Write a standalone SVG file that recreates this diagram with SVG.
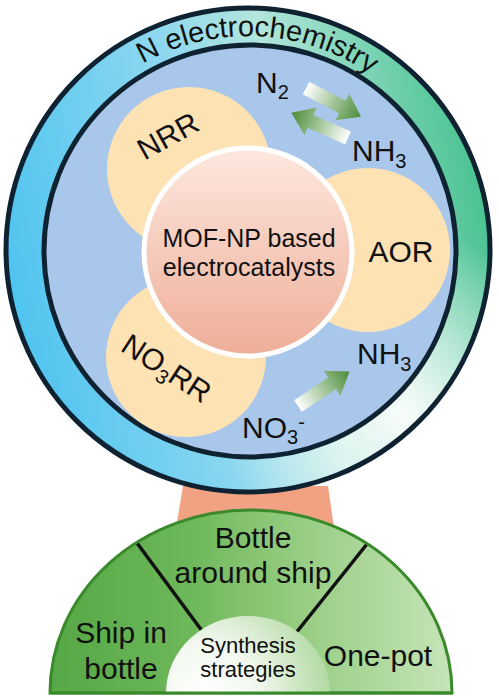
<svg xmlns="http://www.w3.org/2000/svg" width="499" height="700" viewBox="0 0 499 700">
<defs>
<style>
.t{font-family:"Liberation Sans",Arial,sans-serif;fill:#111;}
.big{font-size:30px;}
.mid{font-size:25px;}
.sm{font-size:22px;}
.sub{font-size:20px;}
.dark{stroke:#0f2232;stroke-width:5;}
.pale{fill:#fde2b4;}
</style>
<linearGradient id="ringG" x1="0" y1="0.55" x2="1" y2="0.35">
<stop offset="0" stop-color="#4fc4f0"/>
<stop offset="0.4" stop-color="#8ed8ef"/>
<stop offset="0.6" stop-color="#b3e6dc"/>
<stop offset="1" stop-color="#45c18d"/>
</linearGradient>
<radialGradient id="ringW" cx="0.82" cy="0.84" r="0.38">
<stop offset="0" stop-color="#ffffff" stop-opacity="0.95"/>
<stop offset="1" stop-color="#ffffff" stop-opacity="0"/>
</radialGradient>
<linearGradient id="coreG" x1="0" y1="0" x2="0" y2="1">
<stop offset="0" stop-color="#fde8df"/>
<stop offset="1" stop-color="#eeae97"/>
</linearGradient>
<linearGradient id="arrG" x1="0" y1="0" x2="1" y2="0">
<stop offset="0" stop-color="#ffffff"/>
<stop offset="1" stop-color="#4a8c37"/>
</linearGradient>
<linearGradient id="baseG" gradientUnits="userSpaceOnUse" x1="50" y1="0" x2="452" y2="0">
<stop offset="0" stop-color="#56a746"/>
<stop offset="0.35" stop-color="#6db85a"/>
<stop offset="0.5" stop-color="#86c471"/>
<stop offset="0.72" stop-color="#a3d390"/>
<stop offset="1" stop-color="#c6e5b8"/>
</linearGradient>
<radialGradient id="synG" gradientUnits="userSpaceOnUse" cx="205" cy="695" r="150">
<stop offset="0" stop-color="#ffffff"/>
<stop offset="0.35" stop-color="#f2f8ef"/>
<stop offset="1" stop-color="#9ccf88"/>
</radialGradient>
<path id="arcP" d="M 34,250 A 214,214 0 0 1 462,250"/>
<path id="arrow" d="M0,-7 H41 V-15 L62,0 L41,15 V7 H0 Z"/>
</defs>

<g id="stem">
<polygon points="183,486 328,486 334,528 176,528" fill="#f0a283"/>
</g>

<g id="ring">
<circle cx="248" cy="250" r="242" fill="url(#ringG)"/>
<circle cx="248" cy="250" r="242" fill="url(#ringW)"/>
<circle cx="248" cy="250" r="242" fill="none" class="dark"/>
<text class="t" font-size="29" fill="#152535"><textPath href="#arcP" startOffset="51.5%" text-anchor="middle">N electrochemistry</textPath></text>
</g>

<g id="inner">
<circle cx="250" cy="251" r="206" fill="#a8c7ea" class="dark"/>
</g>

<g id="nrr">
<circle cx="189" cy="169" r="82" class="pale"/>
<text class="t big" text-anchor="middle" transform="translate(173,145) rotate(-29)">NRR</text>
</g>

<g id="aor">
<circle cx="368" cy="250" r="82" class="pale"/>
<text class="t big" x="401" y="262" text-anchor="middle">AOR</text>
</g>

<g id="no3rr">
<circle cx="186" cy="357" r="80" class="pale"/>
<text class="t big" text-anchor="middle" transform="translate(161,377) rotate(33)">NO<tspan class="sub" dy="6">3</tspan><tspan dy="-6">RR</tspan></text>
</g>

<g id="core">
<circle cx="248" cy="252" r="104" fill="url(#coreG)" stroke="#ffffff" stroke-width="5"/>
<text class="t mid" x="249" y="247" text-anchor="middle">MOF-NP based</text>
<text class="t mid" x="249" y="276" text-anchor="middle">electrocatalysts</text>
</g>

<g id="species">
<text class="t big" x="256" y="93">N<tspan class="sub" dy="6">2</tspan></text>
<text class="t big" x="352" y="161">NH<tspan class="sub" dy="7">3</tspan></text>
<text class="t big" x="357" y="364">NH<tspan class="sub" dy="7">3</tspan></text>
<text class="t big" x="242" y="438">NO<tspan class="sub" dy="6">3</tspan><tspan class="sub" dy="-15">-</tspan></text>
</g>

<g id="connectors">
<use href="#arrow" fill="url(#arrG)" transform="translate(306,88) rotate(27.5)"/>
<use href="#arrow" fill="url(#arrG)" transform="translate(348,138) rotate(204)"/>
<use href="#arrow" fill="url(#arrG)" transform="translate(298,406) rotate(-33.7)"/>
</g>

<g id="base">
<g id="ship-in-bottle">
<path d="M50,693 A201,183 0 0 1 137,543 L248,693 Z" fill="url(#baseG)"/>
<text class="t big" x="121" y="643" text-anchor="middle">Ship in</text>
<text class="t big" x="121" y="679" text-anchor="middle">bottle</text>
</g>
<g id="bottle-around-ship">
<path d="M137,543 A201,183 0 0 1 367,544 L248,693 Z" fill="url(#baseG)"/>
<text class="t big" x="253" y="548" text-anchor="middle">Bottle</text>
<text class="t big" x="253" y="583" text-anchor="middle">around ship</text>
</g>
<g id="one-pot">
<path d="M367,544 A201,183 0 0 1 452,693 L248,693 Z" fill="url(#baseG)"/>
<text class="t big" x="378" y="666" text-anchor="middle">One-pot</text>
</g>
<line x1="137" y1="543" x2="248" y2="693" stroke="#111" stroke-width="3.5"/>
<line x1="367" y1="544" x2="248" y2="693" stroke="#111" stroke-width="3.5"/>
<path d="M50,693 A201,183 0 0 1 452,693 Z" fill="none" stroke="#3a8a2c" stroke-width="3"/>
<g id="synthesis">
<path d="M166,693 A82,77 0 0 1 330,693 Z" fill="url(#synG)"/>
<text class="t sm" x="248" y="653" text-anchor="middle">Synthesis</text>
<text class="t sm" x="248" y="677" text-anchor="middle">strategies</text>
</g>
<line x1="50" y1="693" x2="452" y2="693" stroke="#3a8a2c" stroke-width="3"/>
</g>
</svg>
